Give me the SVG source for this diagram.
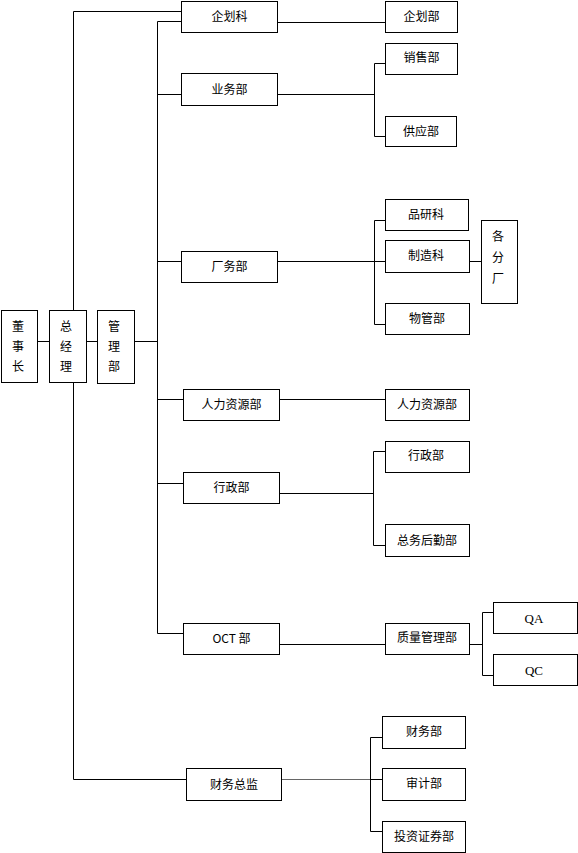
<svg xmlns="http://www.w3.org/2000/svg" width="578" height="853" viewBox="0 0 578 853">
<style>
.b{fill:#fff;stroke:#000;stroke-width:1}
.t{font-family:"Noto Sans CJK SC","Noto Sans",sans-serif;font-size:12px;fill:#000;text-anchor:middle}
.s{font-family:"Liberation Serif",serif;font-size:13px;fill:#000;text-anchor:middle}
.c{fill:none;stroke:#000;stroke-width:1}
</style>
<rect width="578" height="853" fill="#fff"/>
<g id="connectors" class="c">
<path d="M37 341.5H49M86 341.5H97M134 341.5H157.5"/>
<path d="M73.5 310V11.5H181M73.5 382V779.5H186"/>
<path d="M157.5 21.5V633.5H183M157.5 21.5H181M157.5 94.5H181M157.5 261.5H181M157.5 399.5H183M157.5 483.5H183"/>
<path d="M277 22.5H385"/>
<path d="M277 94.5H374.5M385 63.5H374.5V136.5H385"/>
<path d="M277 261.5H385M385 220.5H374.5V324.5H385M469 261.5H481"/>
<path d="M279 399.5H385"/>
<path d="M279 493.5H373.5M385 451.5H373.5V545.5H385"/>
<path d="M279 644.5H385M469 644.5H482.5M493 612.5H482.5V675.5H493"/>
<path d="M281 779.5H370.5" stroke="#666"/>
<path d="M382 737.5H370.5V831.5H382M370.5 779.5H382"/>
</g>
<g id="dsz"><rect class="b" x="1.5" y="310.5" width="36" height="72"/><text class="t" x="18" y="331">董</text><text class="t" x="18" y="351">事</text><text class="t" x="18" y="371">长</text></g>
<g id="zjl"><rect class="b" x="49.5" y="310.5" width="37" height="72"/><text class="t" x="66" y="331">总</text><text class="t" x="66" y="351">经</text><text class="t" x="66" y="371">理</text></g>
<g id="glb"><rect class="b" x="97.5" y="310.5" width="37" height="73"/><text class="t" x="114" y="331">管</text><text class="t" x="114" y="351">理</text><text class="t" x="114" y="371">部</text></g>
<g id="qhk"><rect class="b" x="181.5" y="1.5" width="96" height="31"/><text class="t" x="229.5" y="21">企划科</text></g>
<g id="ywb"><rect class="b" x="181.5" y="73.5" width="96" height="32"/><text class="t" x="229.5" y="94">业务部</text></g>
<g id="cwb"><rect class="b" x="181.5" y="251.5" width="96" height="31"/><text class="t" x="229.5" y="271">厂务部</text></g>
<g id="rlzy1"><rect class="b" x="183.5" y="389.5" width="96" height="31"/><text class="t" x="231.5" y="409">人力资源部</text></g>
<g id="xzb1"><rect class="b" x="183.5" y="472.5" width="96" height="31"/><text class="t" x="231.5" y="492">行政部</text></g>
<g id="oct"><rect class="b" x="183.5" y="623.5" width="96" height="31"/><text class="t" x="231.5" y="643">OCT 部</text></g>
<g id="cwzj"><rect class="b" x="186.5" y="768.5" width="95" height="32"/><text class="t" x="234" y="789">财务总监</text></g>
<g id="qhb"><rect class="b" x="385.5" y="1.5" width="72" height="31"/><text class="t" x="421.5" y="21">企划部</text></g>
<g id="xsb"><rect class="b" x="385.5" y="43.5" width="72" height="31"/><text class="t" x="421.5" y="62">销售部</text></g>
<g id="gyb"><rect class="b" x="385.5" y="116.5" width="71" height="30"/><text class="t" x="421" y="136">供应部</text></g>
<g id="pyk"><rect class="b" x="385.5" y="199.5" width="83" height="31"/><text class="t" x="426" y="219">品研科</text></g>
<g id="zzk"><rect class="b" x="385.5" y="240.5" width="84" height="32"/><text class="t" x="426" y="260">制造科</text></g>
<g id="wgb"><rect class="b" x="385.5" y="303.5" width="84" height="31"/><text class="t" x="427" y="323">物管部</text></g>
<g id="gfc"><rect class="b" x="481.5" y="220.5" width="36" height="83"/><text class="t" x="498" y="241">各</text><text class="t" x="498" y="262">分</text><text class="t" x="498" y="283">厂</text></g>
<g id="rlzy2"><rect class="b" x="385.5" y="389.5" width="84" height="31"/><text class="t" x="427" y="409">人力资源部</text></g>
<g id="xzb2"><rect class="b" x="385.5" y="441.5" width="84" height="31"/><text class="t" x="426" y="460">行政部</text></g>
<g id="zwhq"><rect class="b" x="385.5" y="524.5" width="84" height="32"/><text class="t" x="427" y="545">总务后勤部</text></g>
<g id="zlgl"><rect class="b" x="385.5" y="623.5" width="84" height="31"/><text class="t" x="427" y="642">质量管理部</text></g>
<g id="qa"><rect class="b" x="493.5" y="602.5" width="84" height="31"/><text class="s" x="534" y="623">QA</text></g>
<g id="qc"><rect class="b" x="493.5" y="654.5" width="84" height="31"/><text class="s" x="534" y="675">QC</text></g>
<g id="cwb2"><rect class="b" x="382.5" y="716.5" width="83" height="32"/><text class="t" x="424" y="736">财务部</text></g>
<g id="sjb"><rect class="b" x="382.5" y="768.5" width="83" height="32"/><text class="t" x="424" y="788">审计部</text></g>
<g id="tzzq"><rect class="b" x="382.5" y="821.5" width="83" height="31"/><text class="t" x="424" y="841">投资证券部</text></g>
</svg>
